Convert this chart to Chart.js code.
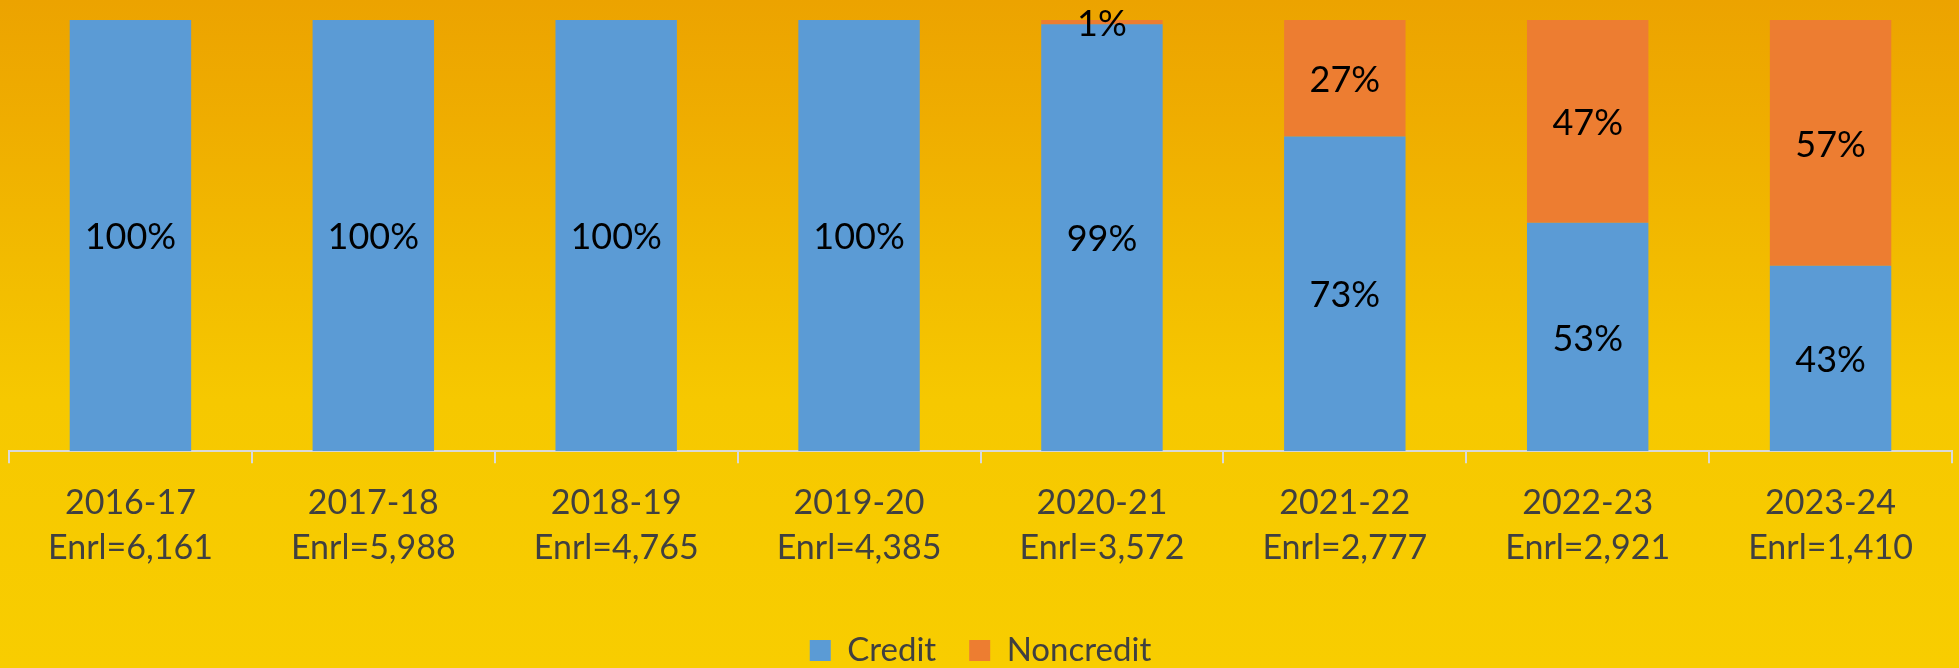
<!DOCTYPE html>
<html>
<head>
<meta charset="utf-8">
<script src="https://cdn.jsdelivr.net/npm/chart.js@4.4.1/dist/chart.umd.min.js"></script>
<style>
  html, body { margin: 0; padding: 0; }
  body {
    width: 1959px; height: 668px; overflow: hidden;
    background: linear-gradient(to bottom, #eca300 0px, #efad00 120px, #f2bb00 260px, #f6c800 400px, #f8cd00 668px);
  }
  #wrap { position: relative; width: 1959px; height: 668px; }
</style>
</head>
<body>
<div id="wrap"><canvas id="enrl" width="1959" height="668"></canvas></div>
<script>
var years = ['2016-17', '2017-18', '2018-19', '2019-20', '2020-21', '2021-22', '2022-23', '2023-24'];
var enrollment = ['6,161', '5,988', '4,765', '4,385', '3,572', '2,777', '2,921', '1,410'];
var creditPct = [100, 100, 100, 100, 99, 73, 53, 43];
var noncreditPct = [0, 0, 0, 0, 1, 27, 47, 57];

var labels = [];
for (var i = 0; i < years.length; i++) {
  labels.push([years[i], 'Enrl=' + enrollment[i]]);
}

// draws the % inside each bar segment
var segLabels = {
  id: 'segLabels',
  afterDatasetsDraw: function(chart) {
    var ctx = chart.ctx;
    ctx.save();
    ctx.font = '36px Lato';
    ctx.fillStyle = '#000';
    ctx.textAlign = 'center';
    ctx.textBaseline = 'middle';
    chart.data.datasets.forEach(function(ds, di) {
      var meta = chart.getDatasetMeta(di);
      meta.data.forEach(function(bar, j) {
        var v = ds.data[j];
        if (!v) return;
        ctx.fillText(v + '%', bar.x, (bar.y + bar.base) / 2 + 2);
      });
    });
    ctx.restore();
  }
};

var chart = new Chart(document.getElementById('enrl'), {
  type: 'bar',
  data: {
    labels: labels,
    datasets: [
      { label: 'Credit', data: creditPct, backgroundColor: '#5b9bd5', barPercentage: 1, categoryPercentage: 0.5 },
      { label: 'Noncredit', data: noncreditPct, backgroundColor: '#ed7d31', barPercentage: 1, categoryPercentage: 0.5 }
    ]
  },
  options: {
    responsive: false,
    animation: false,
    devicePixelRatio: 1,
    layout: { padding: { left: 9, right: 7, top: 20, bottom: -9 } },
    scales: {
      x: {
        stacked: true,
        afterFit: function(s) { s.height += 14; },
        border: { display: true, color: '#d9d9d9', width: 2 },
        grid: { display: true, drawOnChartArea: false, drawTicks: true, tickLength: 12, color: '#d9d9d9', lineWidth: 2, offset: true },
        ticks: { color: '#404040', font: { family: 'Lato', size: 34, lineHeight: 1.32 }, padding: 17, maxRotation: 0, autoSkip: false }
      },
      y: { stacked: true, display: false, min: 0, max: 100 }
    },
    plugins: {
      legend: {
        position: 'bottom',
        labels: { color: '#404040', font: { family: 'Lato', size: 33 }, boxWidth: 21, boxHeight: 21, padding: 33 }
      },
      tooltip: { enabled: false }
    }
  },
  plugins: [segLabels]
});
</script>
</body>
</html>
